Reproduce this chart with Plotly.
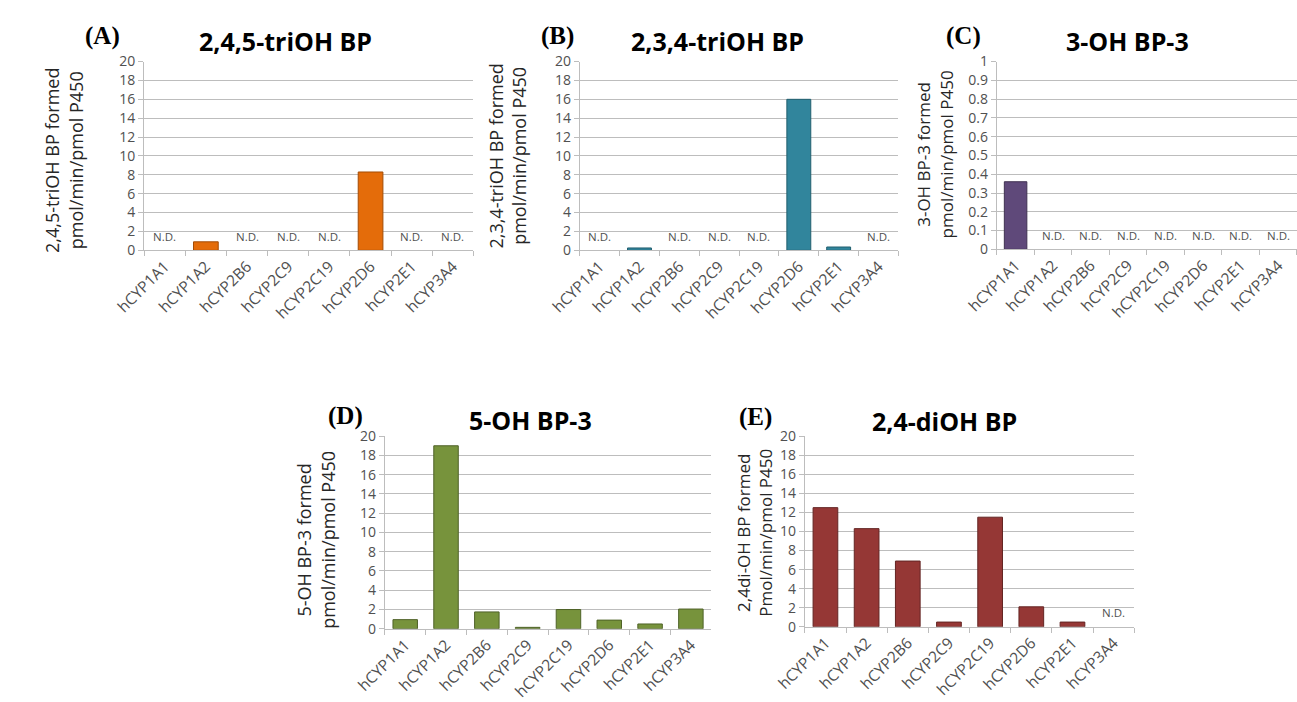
import plotly.graph_objects as go

W, H = 1297, 702

categories = ["hCYP1A1", "hCYP1A2", "hCYP2B6", "hCYP2C9", "hCYP2C19", "hCYP2D6", "hCYP2E1", "hCYP3A4"]

# None = N.D. (not detected)
vals_A = [None, 0.9, None, None, None, 8.3, None, None]
vals_B = [None, 0.25, None, None, None, 16.0, 0.35, None]
vals_C = [0.36, None, None, None, None, None, None, None]
vals_D = [0.95, 19.0, 1.75, 0.15, 2.0, 0.9, 0.5, 2.05]
vals_E = [12.5, 10.3, 6.9, 0.5, 11.5, 2.1, 0.5, None]

titles = ["2,4,5-triOH BP", "2,3,4-triOH BP", "3-OH BP-3", "5-OH BP-3", "2,4-diOH BP"]
letters = ["(A)", "(B)", "(C)", "(D)", "(E)"]
ytitles = [
    "2,4,5-triOH BP formed<br>pmol/min/pmol P450",
    "2,3,4-triOH BP formed<br>pmol/min/pmol P450",
    "3-OH BP-3 formed<br>pmol/min/pmol P450",
    "5-OH BP-3 formed<br>pmol/min/pmol P450",
    "2,4di-OH BP formed<br>Pmol/min/pmol P450",
]
yranges = [(0, 20, 2), (0, 20, 2), (0, 1, 0.1), (0, 20, 2), (0, 20, 2)]

fills = ["#E46C0A", "#31859C", "#5F497A", "#77933C", "#953735"]
lines = ["#A34C06", "#215E6E", "#3F3151", "#4F6228", "#632523"]

# layout geometry in pixels: (x0, x1, ytop, ybottom)
boxes = [
    (114, 452, 53, 247),
    (561, 888, 53, 247),
    (989, 1297, 53, 246),
    (361, 696, 438, 636),
    (792, 1130, 438, 634),
]
title_pos = [(259, 32), (702, 32), (1123, 32), (510, 421), (935, 422)]
letter_pos = [(71, 27), (538, 27), (955, 27), (321, 417), (741, 418)]
ytitle_pos = [(32, 155), (487, 150), (926, 148), (290, 545), (740, 537)]
ytitle_size = [18, 18, 17, 18, 17]

all_vals = [vals_A, vals_B, vals_C, vals_D, vals_E]

fig = go.Figure()
annotations = []
layout = dict(
    width=W, height=H, margin=dict(l=0, r=0, t=0, b=0),
    paper_bgcolor="white", plot_bgcolor="white", showlegend=False,
    font=dict(family="Open Sans, sans-serif", color="#404040"),
)

tickcol = "#505050"
gridcol = "#BDBDBD"

for i, vals in enumerate(all_vals):
    n = i + 1
    xa = "x" if n == 1 else f"x{n}"
    ya = "y" if n == 1 else f"y{n}"
    x0, x1, yt, yb = boxes[i]
    fig.add_trace(go.Bar(
        x=categories, y=vals,
        marker=dict(color=fills[i], line=dict(color=lines[i], width=1)),
        xaxis=xa, yaxis=ya, hoverinfo="x+y",
    ))
    lo, hi, step = yranges[i]
    layout["xaxis" if n == 1 else f"xaxis{n}"] = dict(
        domain=[x0 / W, x1 / W], anchor=ya, type="category",
        categoryorder="array", categoryarray=categories,
        showline=True, linecolor=gridcol, linewidth=1,
        ticks="outside", tickson="boundaries", ticklen=5, tickcolor=gridcol,
        tickangle=-45, tickfont=dict(size=15.5, color=tickcol),
        showgrid=False, fixedrange=True,
    )
    layout["yaxis" if n == 1 else f"yaxis{n}"] = dict(
        domain=[1 - yb / H, 1 - yt / H], anchor=xa,
        range=[lo, hi], dtick=step, tick0=0,
        showline=True, linecolor=gridcol, linewidth=1,
        ticks="outside", ticklen=5, tickcolor=gridcol,
        showgrid=True, gridcolor=gridcol, gridwidth=1,
        zeroline=False, tickfont=dict(size=14, color=tickcol),
        fixedrange=True,
    )
    # N.D. labels
    for c, v in zip(categories, vals):
        if v is None:
            annotations.append(dict(
                x=c, y=lo, xref=xa, yref=ya, text="N.D.", showarrow=False,
                yshift=14, font=dict(size=11.5, color=tickcol, family="Open Sans, sans-serif"),
            ))
    # titles
    tx, ty = title_pos[i]
    annotations.append(dict(
        x=tx / W, y=1 - ty / H, xref="paper", yref="paper", text=f"<b>{titles[i]}</b>",
        showarrow=False, xanchor="center", yanchor="middle",
        font=dict(size=25, color="black", family="Open Sans, sans-serif"),
    ))
    lx, ly = letter_pos[i]
    annotations.append(dict(
        x=lx / W, y=1 - ly / H, xref="paper", yref="paper", text=f"<b>{letters[i]}</b>",
        showarrow=False, xanchor="center", yanchor="middle",
        font=dict(size=25, color="black", family="Liberation Serif, serif"),
    ))
    ax_, ay_ = ytitle_pos[i]
    annotations.append(dict(
        x=ax_ / W, y=1 - ay_ / H, xref="paper", yref="paper", text=ytitles[i],
        showarrow=False, xanchor="center", yanchor="middle", textangle=-90,
        font=dict(size=ytitle_size[i], color="#262626", family="Open Sans, sans-serif"),
    ))

layout["bargap"] = 0.4
layout["annotations"] = annotations
fig.update_layout(**layout)
fig.write_html("out.html")
